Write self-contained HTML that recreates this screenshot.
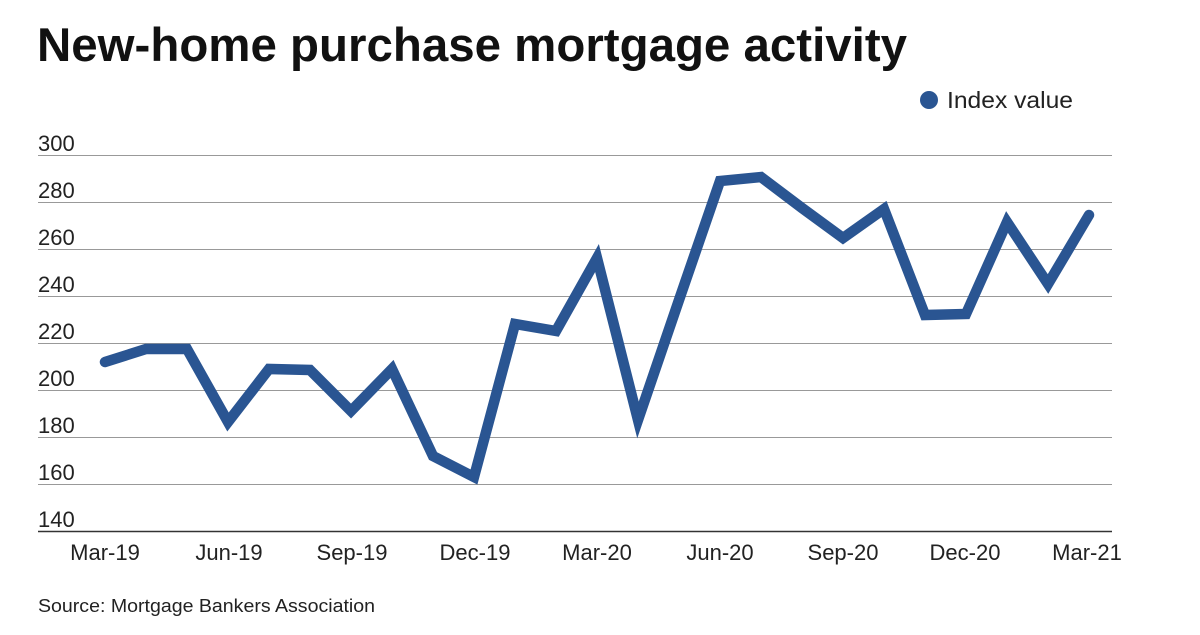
<!DOCTYPE html>
<html><head><style>
body{margin:0;background:#fff;width:1200px;height:630px;overflow:hidden;font-family:"Liberation Sans",sans-serif;}
</style></head><body>
<svg width="1200" height="630" xmlns="http://www.w3.org/2000/svg" font-family="Liberation Sans, sans-serif">
<text x="37" y="61" font-size="47" font-weight="bold" fill="#111" textLength="870" lengthAdjust="spacingAndGlyphs">New-home purchase mortgage activity</text>
<circle cx="929" cy="100" r="9" fill="#2a5592"/>
<text x="947" y="108" font-size="23" fill="#222" textLength="126" lengthAdjust="spacingAndGlyphs">Index value</text>
<g stroke="#999" stroke-width="1">
<line x1="38" x2="1112" y1="155.5" y2="155.5"/>
<line x1="38" x2="1112" y1="202.5" y2="202.5"/>
<line x1="38" x2="1112" y1="249.5" y2="249.5"/>
<line x1="38" x2="1112" y1="296.5" y2="296.5"/>
<line x1="38" x2="1112" y1="343.5" y2="343.5"/>
<line x1="38" x2="1112" y1="390.5" y2="390.5"/>
<line x1="38" x2="1112" y1="437.5" y2="437.5"/>
<line x1="38" x2="1112" y1="484.5" y2="484.5"/>
</g>
<line x1="38" x2="1112" y1="531.5" y2="531.5" stroke="#333" stroke-width="1.5"/>
<g font-size="22" fill="#222">
<text x="38" y="151">300</text><text x="38" y="198">280</text><text x="38" y="245">260</text>
<text x="38" y="292">240</text><text x="38" y="339">220</text><text x="38" y="386">200</text>
<text x="38" y="433">180</text><text x="38" y="480">160</text><text x="38" y="527">140</text>
</g>
<g font-size="22" fill="#222" text-anchor="middle">
<text x="105" y="560">Mar-19</text><text x="229" y="560">Jun-19</text><text x="352" y="560">Sep-19</text>
<text x="475" y="560">Dec-19</text><text x="597" y="560">Mar-20</text><text x="720" y="560">Jun-20</text>
<text x="843" y="560">Sep-20</text><text x="965" y="560">Dec-20</text><text x="1087" y="560">Mar-21</text>
</g>
<polyline fill="none" stroke="#2a5592" stroke-width="10.5" stroke-linejoin="miter" stroke-linecap="round"
points="105,362 146,349 187,349 228,422 269,369 310,370 351,411 392,369 433,456 474,477 515,324 556,331 597,258 638,420 679,300 720,181 761,177 802,208 843,238 884,209 925,315 966,314 1007,222 1048,284 1089,215"/>
<text x="38" y="612" font-size="18" fill="#222" textLength="337" lengthAdjust="spacingAndGlyphs">Source: Mortgage Bankers Association</text>
</svg>
</body></html>
